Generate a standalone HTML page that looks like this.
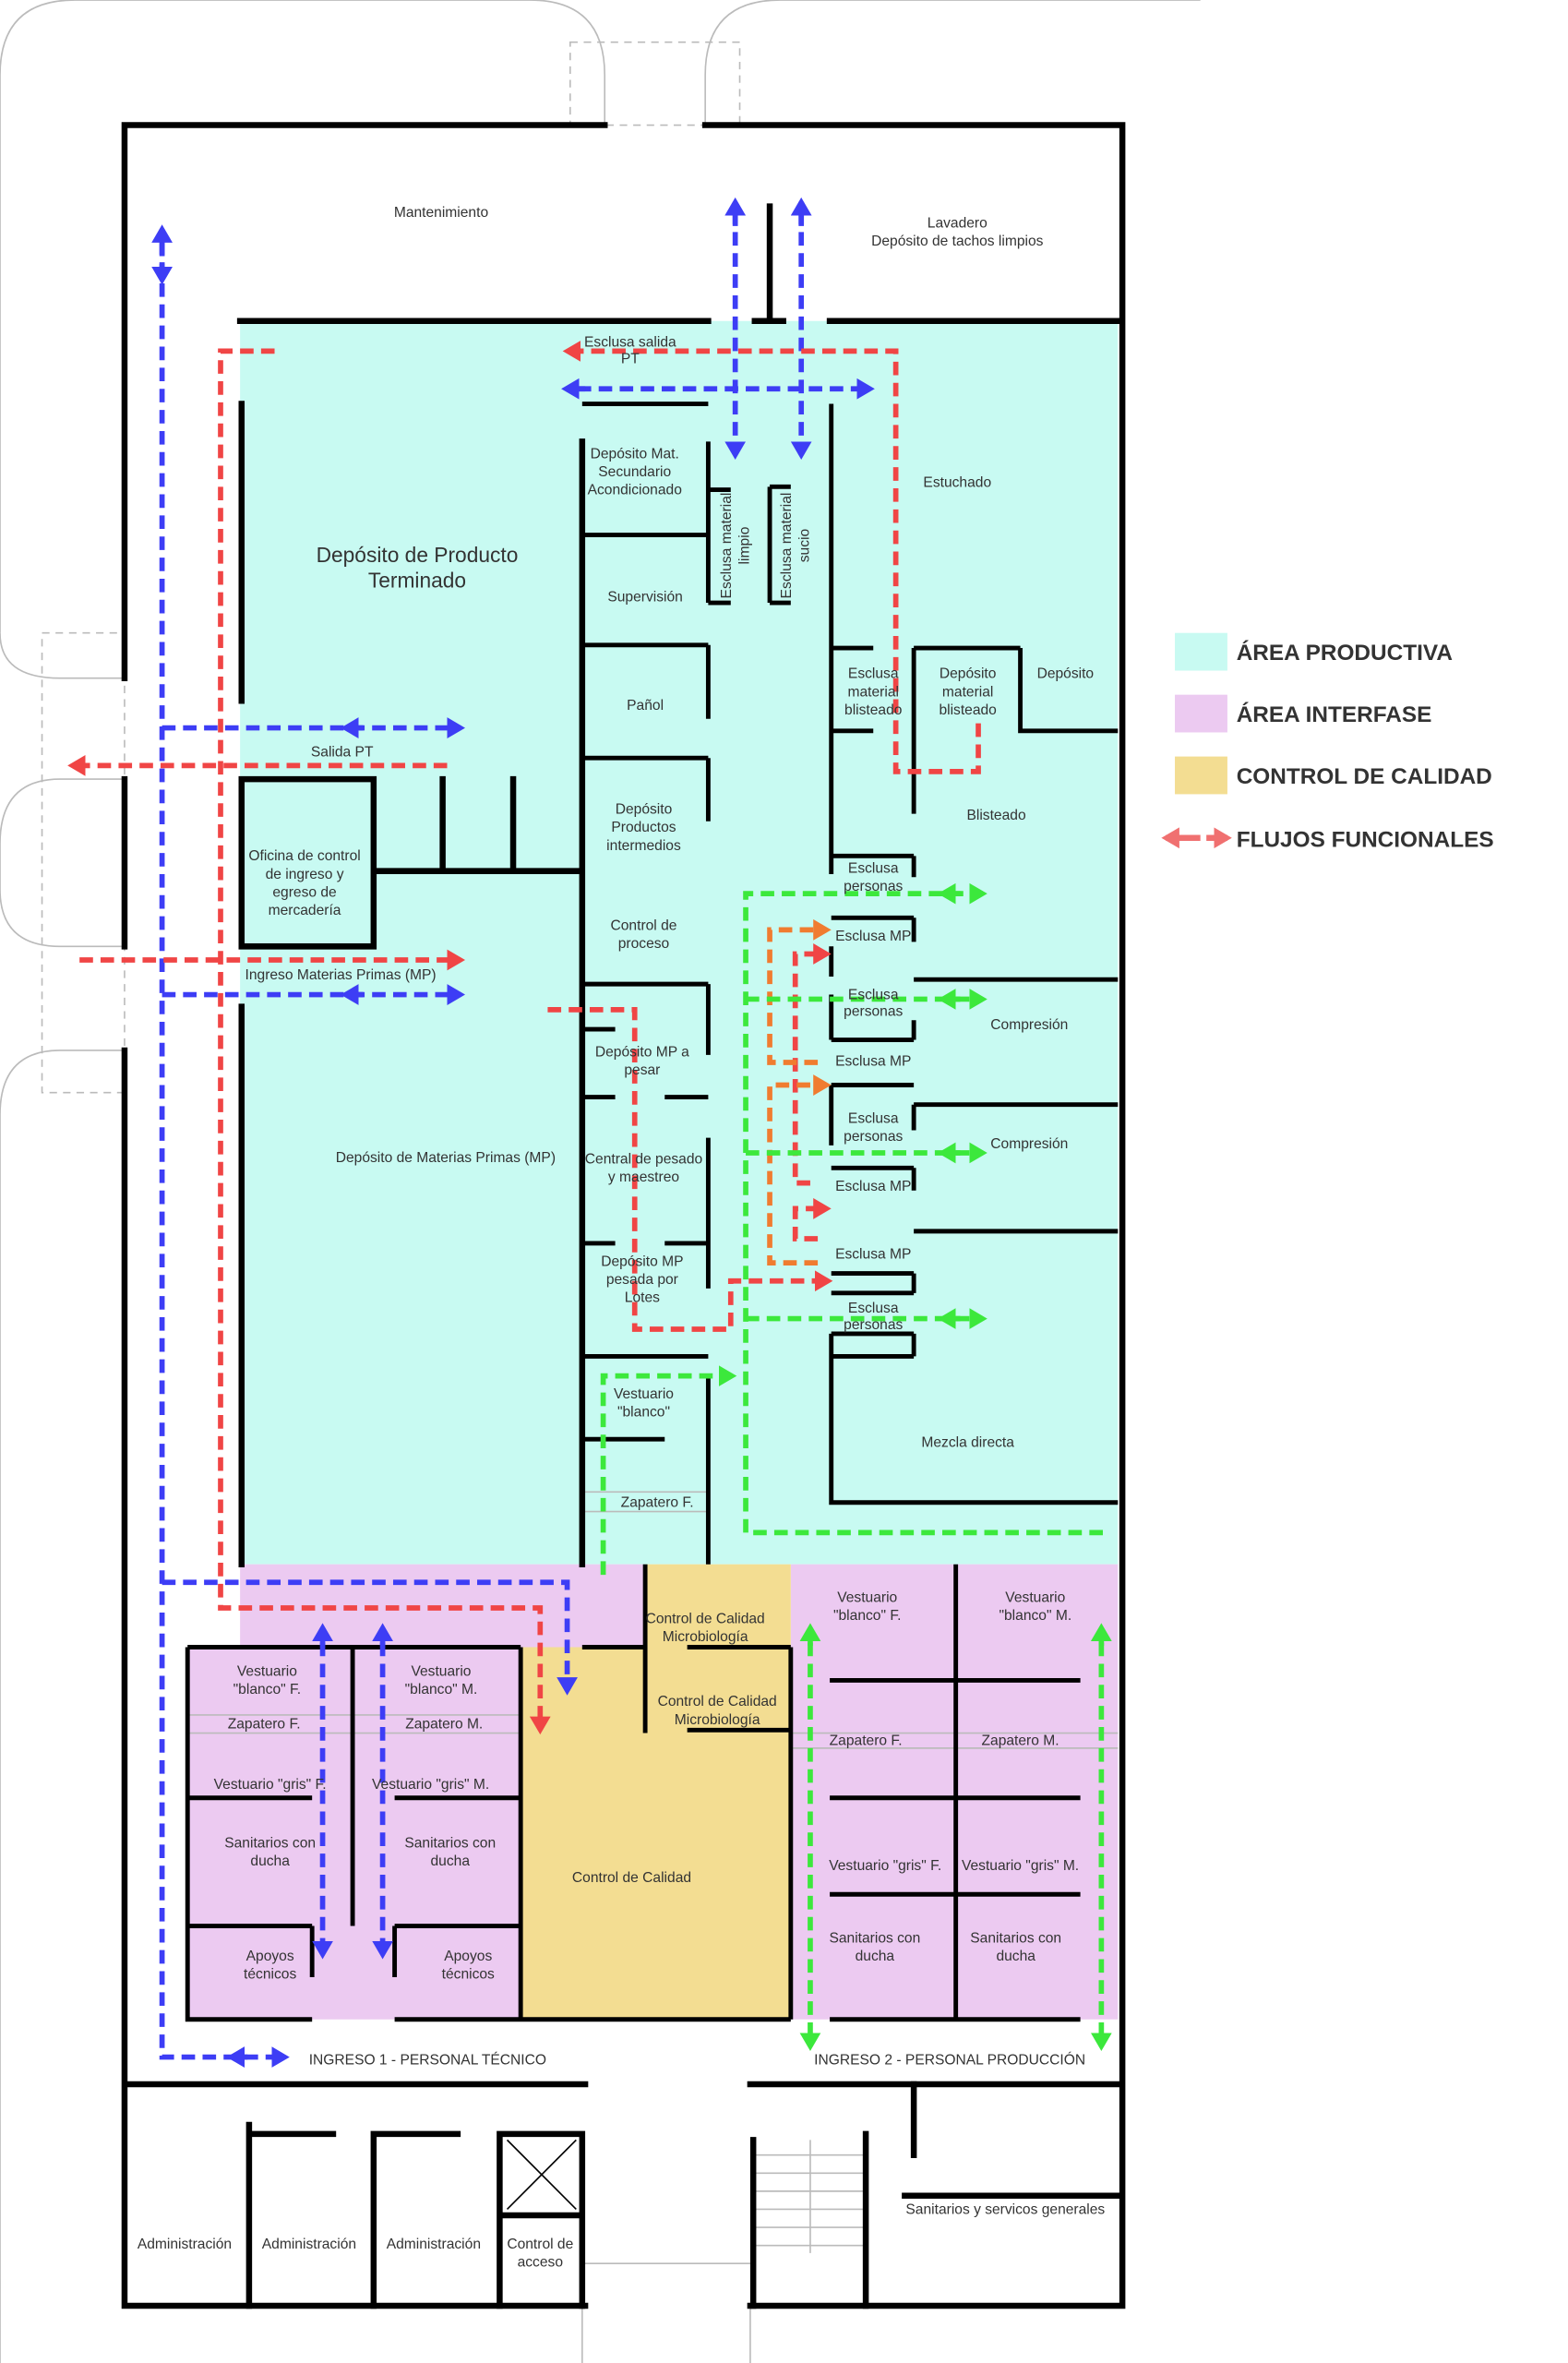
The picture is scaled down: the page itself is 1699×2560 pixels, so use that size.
<!DOCTYPE html>
<html><head><meta charset="utf-8"><style>
html,body{margin:0;padding:0;background:#fff;}
svg{display:block;}
text{font-family:"Liberation Sans",sans-serif;font-size:9.6px;fill:#333;text-anchor:middle;}
.w{stroke:#000;stroke-width:4;fill:none;stroke-linecap:square;}
.w3{stroke:#000;stroke-width:3;fill:none;}
.g{stroke:#bbb;stroke-width:1;fill:none;}
.b{stroke:#3d3df5;stroke-width:3.5;fill:none;stroke-dasharray:9,5;}
.r{stroke:#f04545;stroke-width:3.5;fill:none;stroke-dasharray:9,5;}
.o{stroke:#f07c30;stroke-width:3.5;fill:none;stroke-dasharray:9,5;}
.gr{stroke:#3ce83c;stroke-width:3.5;fill:none;stroke-dasharray:9,5;}
.lg{font-size:15px;font-weight:bold;text-anchor:start;fill:#333;}
</style></head><body>
<svg width="1699" height="2560" viewBox="0 0 1045 1568" preserveAspectRatio="none" xmlns="http://www.w3.org/2000/svg">
<defs>
<marker id="mb" markerUnits="userSpaceOnUse" markerWidth="14" markerHeight="14" refX="9" refY="7" orient="auto"><path d="M0,0 L12,7 L0,14 z" fill="#3d3df5"/></marker>
<marker id="mr" markerUnits="userSpaceOnUse" markerWidth="14" markerHeight="14" refX="9" refY="7" orient="auto"><path d="M0,0 L12,7 L0,14 z" fill="#f04545"/></marker>
<marker id="mo" markerUnits="userSpaceOnUse" markerWidth="14" markerHeight="14" refX="9" refY="7" orient="auto"><path d="M0,0 L12,7 L0,14 z" fill="#f07c30"/></marker>
<marker id="mg" markerUnits="userSpaceOnUse" markerWidth="14" markerHeight="14" refX="9" refY="7" orient="auto"><path d="M0,0 L12,7 L0,14 z" fill="#3ce83c"/></marker>
<marker id="ml" markerUnits="userSpaceOnUse" markerWidth="14" markerHeight="14" refX="9" refY="7" orient="auto"><path d="M0,0 L12,7 L0,14 z" fill="#f07070"/></marker>
</defs>
<rect width="1045" height="1568" fill="#fff"/>
<!-- site outlines -->
<path class="g" d="M0,420 L0,50 Q0,0 50,0 L353,0 Q403,0 403,50 L403,83"/>
<path class="g" d="M470,83 L470,50 Q470,0 520,0 L800,0"/>
<rect x="380" y="28" width="113" height="55" fill="none" stroke="#bbb" stroke-dasharray="5,4"/>
<rect x="28" y="420" width="55" height="305" fill="none" stroke="#bbb" stroke-dasharray="5,4"/>
<path class="g" d="M0,420 Q0,450 40,450 L83,450 M83,517 L40,517 Q0,517 0,560 L0,590 Q0,628 40,628 L83,628 M83,697 L40,697 Q0,697 0,740 L0,1568"/>
<path class="g" d="M388,1530 L388,1568 M500,1530 L500,1568 M388,1502 L500,1502"/>
<!-- areas -->
<rect x="160" y="213" width="585" height="825" fill="#c8faf2"/>
<rect x="160" y="1038" width="270" height="55" fill="#eccaf1"/>
<rect x="125" y="1093" width="222" height="247" fill="#eccaf1"/>
<rect x="527" y="1038" width="218" height="302" fill="#eccaf1"/>
<rect x="430" y="1038" width="97" height="55" fill="#f3dd92"/>
<rect x="347" y="1093" width="180" height="247" fill="#f3dd92"/>
<!-- thin gray lines -->
<path class="g" d="M388,990 L472,990 M388,1003 L472,1003 M125,1138 L347,1138 M125,1150 L347,1150 M527,1150 L745,1150 M527,1160 L745,1160"/>
<g class="g"><path d="M502,1430 L577,1430 M502,1442 L577,1442 M502,1454 L577,1454 M502,1466 L577,1466 M502,1478 L577,1478 M502,1490 L577,1490 M540,1420 L540,1495"/></g>
<!-- outer walls -->
<path class="w" d="M83,83 L403,83 M470,83 L748,83 M748,83 L748,1530 M83,83 L83,450 M83,517 L83,628 M83,697 L83,1530 M83,1530 L390,1530 M500,1530 L748,1530 M83,1383 L390,1383 M500,1383 L748,1383"/>
<!-- interior walls -->
<path class="w" d="M160,213 L472,213 M503,213 L522,213 M553,213 L745,213 M513,137 L513,213
M161,268 L161,465 M161,517 L161,628 M161,668 L161,1038
M161,517 L249,517 L249,628 L161,628 M249,578 L388,578 M295,517 L295,578 M342,517 L342,578
M388,293 L388,1038"/>
<path class="w3" d="M388,268 L472,268 M472,293 L472,400 M388,355 L472,355 M472,325 L487,325 M472,400 L487,400 M513,323 L513,400 M513,323 L527,323 M513,400 L527,400
M554,268 L554,580 M388,428 L472,428 M472,428 L472,477 M388,503 L472,503 M472,503 L472,545 M388,653 L472,653 M472,653 L472,700
M554,430 L582,430 M554,485 L582,485 M609,430 L680,430 M609,430 L609,540 M680,430 L680,485 L745,485
M554,568 L609,568 M609,568 L609,582 M554,609 L609,609 M609,609 L609,625 M609,650 L745,650 M554,628 L554,648
M554,690 L609,690 M609,677 L609,690 M554,660 L554,690 M554,720 L609,720 M554,720 L554,760 M609,733 L745,733 M609,733 L609,750 M554,775 L609,775 M609,775 L609,790 M609,817 L745,817
M554,845 L609,845 M554,858 L609,858 M609,845 L609,858 M554,885 L609,885 M609,885 L609,900 M554,900 L609,900 M554,885 L554,997 L745,997
M388,683 L410,683 M388,728 L410,728 M443,728 L472,728 M472,755 L472,855 M388,825 L410,825 M443,825 L472,825 M388,900 L472,900 M388,955 L443,955 M472,912 L472,1038"/>
<path class="w3" d="M125,1093 L347,1093 M125,1093 L125,1340 L208,1340 M263,1340 L347,1340 M347,1093 L347,1340 M125,1193 L208,1193 M125,1278 L208,1278 M263,1193 L347,1193 M263,1278 L347,1278 M235,1093 L235,1278 M208,1278 L208,1312 M263,1278 L263,1312
M347,1340 L527,1340 M527,1093 L527,1340 M388,1093 L430,1093 M430,1038 L430,1150 M458,1093 L527,1093 M458,1148 L527,1148
M637,1038 L637,1340 M553,1115 L720,1115 M553,1193 L720,1193 M553,1257 L720,1257 M553,1340 L720,1340"/>
<path class="w" d="M166,1410 L166,1530 M166,1416 L222,1416 M249,1416 L249,1530 M249,1416 L305,1416 M333,1416 L388,1416 M333,1416 L333,1530 M388,1416 L388,1530 M333,1470 L388,1470 M502,1420 L502,1530 M577,1416 L577,1530 M609,1383 L609,1430 M603,1457 L745,1457"/>
<path stroke="#000" stroke-width="1" d="M338,1420 L384,1466 M384,1420 L338,1466"/>
<!-- flows blue -->
<path class="b" d="M108,160 L108,1365 L190,1365" marker-end="url(#mb)"/>
<path class="b" d="M108,170 L108,152" marker-end="url(#mb)"/>
<path class="b" d="M108,175 L108,186" marker-end="url(#mb)"/>
<path class="b" d="M165,1365 L154,1365" marker-end="url(#mb)"/>
<path class="b" d="M108,483 L307,483" marker-end="url(#mb)"/>
<path class="b" d="M242,483 L230,483" marker-end="url(#mb)"/>
<path class="b" d="M108,660 L307,660" marker-end="url(#mb)"/>
<path class="b" d="M242,660 L230,660" marker-end="url(#mb)"/>
<path class="b" d="M108,1050 L378,1050 L378,1122" marker-end="url(#mb)"/>
<path class="b" d="M385,258 L580,258" marker-end="url(#mb)"/>
<path class="b" d="M390,258 L377,258" marker-end="url(#mb)"/>
<path class="b" d="M490,140 L490,302" marker-end="url(#mb)"/>
<path class="b" d="M490,150 L490,134" marker-end="url(#mb)"/>
<path class="b" d="M534,140 L534,302" marker-end="url(#mb)"/>
<path class="b" d="M534,150 L534,134" marker-end="url(#mb)"/>
<path class="b" d="M215,1090 L215,1297" marker-end="url(#mb)"/>
<path class="b" d="M215,1092 L215,1080" marker-end="url(#mb)"/>
<path class="b" d="M255,1090 L255,1297" marker-end="url(#mb)"/>
<path class="b" d="M255,1092 L255,1080" marker-end="url(#mb)"/>
<!-- red -->
<path class="r" d="M183,233 L147,233 L147,1067 L360,1067 L360,1148" marker-end="url(#mr)"/>
<path class="r" d="M652,480 L652,512 L597,512 L597,233 L378,233" marker-end="url(#mr)"/>
<path class="r" d="M298,508 L48,508" marker-end="url(#mr)"/>
<path class="r" d="M53,637 L307,637" marker-end="url(#mr)"/>
<path class="r" d="M365,670 L423,670 L423,882 L487,882 L487,850 L552,850" marker-end="url(#mr)"/>
<path class="r" d="M540,785 L530,785 L530,633 L551,633" marker-end="url(#mr)"/>
<path class="r" d="M545,822 L530,822 L530,802 L551,802" marker-end="url(#mr)"/>
<!-- orange -->
<path class="o" d="M545,838 L513,838 L513,720 L551,720" marker-end="url(#mo)"/>
<path class="o" d="M545,705 L513,705 L513,617 L551,617" marker-end="url(#mo)"/>
<!-- green -->
<path class="gr" d="M735,1017 L497,1017 L497,593 L655,593" marker-end="url(#mg)"/>
<path class="gr" d="M640,593 L628,593" marker-end="url(#mg)"/>
<path class="gr" d="M497,663 L655,663" marker-end="url(#mg)"/>
<path class="gr" d="M640,663 L628,663" marker-end="url(#mg)"/>
<path class="gr" d="M497,765 L655,765" marker-end="url(#mg)"/>
<path class="gr" d="M640,765 L628,765" marker-end="url(#mg)"/>
<path class="gr" d="M497,875 L655,875" marker-end="url(#mg)"/>
<path class="gr" d="M640,875 L628,875" marker-end="url(#mg)"/>
<path class="gr" d="M402,1045 L402,913 L488,913" marker-end="url(#mg)"/>
<path class="gr" d="M540,1090 L540,1358" marker-end="url(#mg)"/>
<path class="gr" d="M540,1092 L540,1080" marker-end="url(#mg)"/>
<path class="gr" d="M734,1090 L734,1358" marker-end="url(#mg)"/>
<path class="gr" d="M734,1092 L734,1080" marker-end="url(#mg)"/>
<!-- legend -->
<rect x="783" y="420" width="35" height="25" fill="#c8faf2"/>
<rect x="783" y="461" width="35" height="25" fill="#eccaf1"/>
<rect x="783" y="502" width="35" height="25" fill="#f3dd92"/>
<text class="lg" x="824" y="438">ÁREA PRODUCTIVA</text>
<text class="lg" x="824" y="479">ÁREA INTERFASE</text>
<text class="lg" x="824" y="520">CONTROL DE CALIDAD</text>
<text class="lg" x="824" y="562">FLUJOS FUNCIONALES</text>
<path d="M780,556 L818,556" stroke="#f07070" stroke-width="4" stroke-dasharray="8,4" marker-end="url(#ml)"/>
<path d="M795,556 L777,556" stroke="#f07070" stroke-width="4" marker-end="url(#ml)"/>
<!-- labels -->
<text x="294" y="144">Mantenimiento</text>
<text x="638" y="151">Lavadero</text><text x="638" y="163">Depósito de tachos limpios</text>
<text x="420" y="230">Esclusa salida</text><text x="420" y="241">PT</text>
<text x="278" y="373" style="font-size:14px">Depósito de Producto</text><text x="278" y="390" style="font-size:14px">Terminado</text>
<text x="423" y="304">Depósito Mat.</text><text x="423" y="316">Secundario</text><text x="423" y="328">Acondicionado</text>
<text transform="translate(487,362) rotate(-90)">Esclusa material</text><text transform="translate(499,362) rotate(-90)">limpio</text>
<text transform="translate(527,362) rotate(-90)">Esclusa material</text><text transform="translate(539,362) rotate(-90)">sucio</text>
<text x="638" y="323">Estuchado</text>
<text x="430" y="399">Supervisión</text>
<text x="430" y="471">Pañol</text>
<text x="582" y="450">Esclusa</text><text x="582" y="462">material</text><text x="582" y="474">blisteado</text>
<text x="645" y="450">Depósito</text><text x="645" y="462">material</text><text x="645" y="474">blisteado</text>
<text x="710" y="450">Depósito</text>
<text x="228" y="502">Salida PT</text>
<text x="429" y="540">Depósito</text><text x="429" y="552">Productos</text><text x="429" y="564">intermedios</text>
<text x="664" y="544">Blisteado</text>
<text x="203" y="571">Oficina de control</text><text x="203" y="583">de ingreso y</text><text x="203" y="595">egreso de</text><text x="203" y="607">mercadería</text>
<text x="582" y="579">Esclusa</text><text x="582" y="591">personas</text>
<text x="429" y="617">Control de</text><text x="429" y="629">proceso</text>
<text x="582" y="624">Esclusa MP</text>
<text x="227" y="650">Ingreso Materias Primas (MP)</text>
<text x="582" y="663">Esclusa</text><text x="582" y="674">personas</text>
<text x="686" y="683">Compresión</text>
<text x="428" y="701">Depósito MP a</text><text x="428" y="713">pesar</text>
<text x="582" y="707">Esclusa MP</text>
<text x="582" y="745">Esclusa</text><text x="582" y="757">personas</text>
<text x="686" y="762">Compresión</text>
<text x="297" y="771">Depósito de Materias Primas (MP)</text>
<text x="429" y="772">Central de pesado</text><text x="429" y="784">y maestreo</text>
<text x="582" y="790">Esclusa MP</text>
<text x="582" y="835">Esclusa MP</text>
<text x="428" y="840">Depósito MP</text><text x="428" y="852">pesada por</text><text x="428" y="864">Lotes</text>
<text x="582" y="871">Esclusa</text><text x="582" y="882">personas</text>
<text x="429" y="928">Vestuario</text><text x="429" y="940">"blanco"</text>
<text x="645" y="960">Mezcla directa</text>
<text x="438" y="1000">Zapatero F.</text>
<text x="578" y="1063">Vestuario</text><text x="578" y="1075">"blanco" F.</text>
<text x="690" y="1063">Vestuario</text><text x="690" y="1075">"blanco" M.</text>
<text x="470" y="1077">Control de Calidad</text><text x="470" y="1089">Microbiología</text>
<text x="178" y="1112">Vestuario</text><text x="178" y="1124">"blanco" F.</text>
<text x="294" y="1112">Vestuario</text><text x="294" y="1124">"blanco" M.</text>
<text x="478" y="1132">Control de Calidad</text><text x="478" y="1144">Microbiología</text>
<text x="176" y="1147">Zapatero F.</text><text x="296" y="1147">Zapatero M.</text>
<text x="577" y="1158">Zapatero F.</text><text x="680" y="1158">Zapatero M.</text>
<text x="180" y="1187">Vestuario "gris" F.</text><text x="287" y="1187">Vestuario "gris" M.</text>
<text x="180" y="1226">Sanitarios con</text><text x="180" y="1238">ducha</text>
<text x="300" y="1226">Sanitarios con</text><text x="300" y="1238">ducha</text>
<text x="421" y="1249">Control de Calidad</text>
<text x="590" y="1241">Vestuario "gris" F.</text><text x="680" y="1241">Vestuario "gris" M.</text>
<text x="583" y="1289">Sanitarios con</text><text x="583" y="1301">ducha</text>
<text x="677" y="1289">Sanitarios con</text><text x="677" y="1301">ducha</text>
<text x="180" y="1301">Apoyos</text><text x="180" y="1313">técnicos</text>
<text x="312" y="1301">Apoyos</text><text x="312" y="1313">técnicos</text>
<text x="285" y="1370">INGRESO 1 - PERSONAL TÉCNICO</text>
<text x="633" y="1370">INGRESO 2 - PERSONAL PRODUCCIÓN</text>
<text x="123" y="1492">Administración</text><text x="206" y="1492">Administración</text><text x="289" y="1492">Administración</text>
<text x="360" y="1492">Control de</text><text x="360" y="1504">acceso</text>
<text x="670" y="1469">Sanitarios y servicos generales</text>
</svg>
</body></html>
